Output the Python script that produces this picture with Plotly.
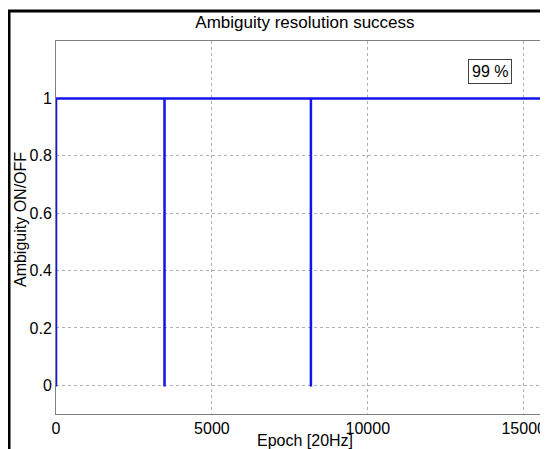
import plotly.graph_objects as go

# Step data: ambiguity ON (1) / OFF (0) breakpoints
epochs = [0, 1, 3480, 3481, 8175, 8176, 16000]
ambiguity_on = [0, 1, 0, 1, 0, 1, 1]

x_ticks = [0, 5000, 10000, 15000]
x_ticktext = ["0", "5000", "10000", "15000"]
y_ticks = [0, 0.2, 0.4, 0.6, 0.8, 1]
y_ticktext = ["0", "0.2", "0.4", "0.6", "0.8", "1"]

title_text = "Ambiguity resolution success"
x_label = "Epoch [20Hz]"
y_label = "Ambiguity ON/OFF"
success_text = "99 %"

FONT = "Liberation Sans, Arial, sans-serif"

# page has an 8px body margin, so the figure is 540x441
W, H = 540, 441
ML, MT, MB = 48, 33, 35
plot_h = H - MT - MB
plot_w = W - ML

fig = go.Figure()
fig.add_trace(go.Scatter(
    x=epochs, y=ambiguity_on, mode="lines", line_shape="hv",
    line=dict(color="rgb(20,20,235)", width=2.5),
    showlegend=False, hoverinfo="skip",
))

fig.update_layout(
    width=W, height=H,
    margin=dict(l=ML, r=0, t=MT, b=MB),
    paper_bgcolor="white", plot_bgcolor="white",
    font=dict(family=FONT, size=16, color="black"),
    title=dict(text=title_text, x=0.506, xref="paper", xanchor="center",
               y=1 - 14 / H, yref="container", yanchor="middle",
               font=dict(family=FONT, size=17, color="black")),
    xaxis=dict(range=[0, 15780], tickvals=x_ticks, ticktext=x_ticktext,
               showgrid=True, gridcolor="#b0b0b0", griddash="dot", gridwidth=1,
               showline=True, linecolor="#808080", linewidth=1, mirror=True,
               zeroline=False, ticks="",
               tickfont=dict(family=FONT, size=16, color="black")),
    yaxis=dict(range=[-0.1, 1.2], tickvals=y_ticks, ticktext=y_ticktext,
               showgrid=True, gridcolor="#b0b0b0", griddash="dot", gridwidth=1,
               showline=True, linecolor="#808080", linewidth=1,
               zeroline=False, ticks="",
               tickfont=dict(family=FONT, size=16, color="black")),
    shapes=[dict(type="rect", xref="paper", yref="paper",
                 x0=(1 - ML) / plot_w, y0=-0.4, x1=1.3, y1=(H - MB - 3) / plot_h,
                 line=dict(color="black", width=3), fillcolor="rgba(0,0,0,0)",
                 layer="above")],
    annotations=[
        dict(text=x_label, xref="paper", yref="paper", x=0.506,
             y=-(432 - (H - MB)) / plot_h,
             xanchor="center", yanchor="middle", showarrow=False,
             font=dict(family=FONT, size=16, color="black")),
        dict(text=y_label, xref="paper", yref="paper", x=(12 - ML) / plot_w, y=0.52,
             xanchor="center", yanchor="middle", textangle=-90, showarrow=False,
             font=dict(family=FONT, size=16, color="black")),
        dict(text=success_text, xref="paper", yref="paper", x=0.882, y=0.917,
             xanchor="center", yanchor="middle", showarrow=False,
             bordercolor="#404040", borderwidth=1, borderpad=3, bgcolor="white",
             font=dict(family=FONT, size=16, color="black")),
    ],
)

fig.write_html("out.html")
